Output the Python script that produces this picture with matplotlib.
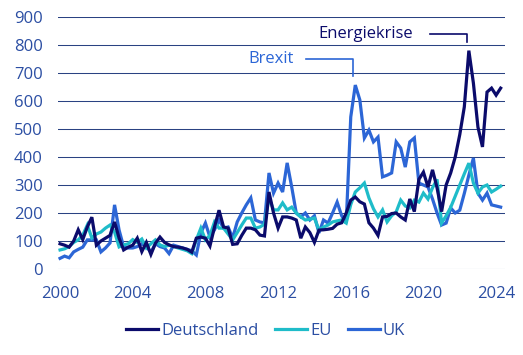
import matplotlib
matplotlib.use("Agg")
import matplotlib.pyplot as plt
import numpy as np

# ---- data (quarterly, 2000Q1 .. 2024Q2) ----
start_year = 2000
deutschland = [
    90, 85, 78, 100,
    140, 105, 150, 185,
    85, 100, 110, 120,
    168, 110, 68, 78,
    85, 110, 62, 95,
    52, 92, 114, 95,
    86, 80, 78, 75,
    70, 60, 110, 114,
    110, 82, 150, 210,
    150, 146, 88, 90,
    120, 146, 146, 140,
    121, 118, 275, 200,
    146, 186, 186, 182,
    175, 110, 150, 130,
    95, 139, 140, 142,
    145, 160, 165, 200,
    246, 257, 240, 232,
    165, 146, 120, 186,
    188, 198, 200, 186,
    175, 250, 205, 320,
    346, 293, 354, 290,
    205, 300, 343, 400,
    480, 579, 780, 664,
    507, 436, 632, 646,
    621, 646,
]
eu = [
    68, 72, 80, 95,
    104, 121, 157, 111,
    125, 132, 146, 157,
    132, 79, 86, 90,
    105, 95, 107, 75,
    90, 104, 86, 80,
    85, 80, 75, 70,
    65, 55, 104, 146,
    104, 120, 168, 146,
    146, 125, 104, 130,
    157, 182, 182, 146,
    150, 160, 254, 211,
    211, 236, 211, 221,
    200, 186, 175, 178,
    182, 139, 150, 157,
    168, 172, 175, 164,
    230, 275, 290, 307,
    254, 215, 186, 211,
    168, 190, 204, 246,
    225, 218, 246, 239,
    271, 250, 290, 320,
    164, 190, 220, 260,
    300, 340, 378, 307,
    271, 293, 300, 275,
    285, 296,
]
uk = [
    38, 46, 40, 61,
    70, 78, 104, 104,
    104, 61, 75, 93,
    229, 139, 79, 75,
    75, 80, 90, 80,
    60, 90, 80, 75,
    55, 85, 80, 75,
    70, 65, 50, 129,
    164, 114, 140, 175,
    146, 150, 111, 168,
    200, 229, 254, 175,
    168, 165, 343, 271,
    307, 275, 379, 293,
    200, 186, 200, 175,
    190, 129, 175, 164,
    200, 239, 190, 164,
    543, 657, 604, 468,
    496, 454, 471, 329,
    335, 343, 454, 432,
    364, 454, 468, 307,
    300, 293, 250, 200,
    157, 164, 218, 200,
    210, 270, 335, 396,
    271, 246, 271, 229,
    225, 221,
]
series_names = ["Deutschland", "EU", "UK"]
x_ticks = [2000, 2004, 2008, 2012, 2016, 2020, 2024]
y_ticks = [0, 100, 200, 300, 400, 500, 600, 700, 800, 900]
annotations = [("Energiekrise", 2022.4, 780), ("Brexit", 2016.1, 657)]

years = start_year + np.arange(len(deutschland)) * 0.25

plt.rcParams['font.family'] = ['Open Sans', 'DejaVu Sans']

C_DE = "#0b0b6b"
C_EU = "#1fbcc9"
C_UK = "#2c66d6"
C_TXT = "#2b4ea3"
C_GRID = "#2a4282"

fig = plt.figure(figsize=(5.23, 3.55), dpi=100)
ax = fig.add_axes([0.111, 0.2423, 0.8546, 0.7097])

lw = 2.3
ax.plot(years, uk, color=C_UK, lw=lw, label=series_names[2], zorder=3, solid_joinstyle='miter')
ax.plot(years, eu, color=C_EU, lw=lw, label=series_names[1], zorder=4, solid_joinstyle='miter')
ax.plot(years, deutschland, color=C_DE, lw=lw, label=series_names[0], zorder=5, solid_joinstyle='miter')

ax.set_xlim(1999.89, 2024.49)
ax.set_ylim(0, 900)
ax.set_xticks(x_ticks)
ax.set_yticks(y_ticks)
ax.grid(axis='y', color=C_GRID, lw=0.75, zorder=1)
ax.set_axisbelow(True)
for s in ax.spines.values():
    s.set_visible(False)
ax.tick_params(length=0, labelsize=12, labelcolor=C_TXT)
ax.tick_params(axis='y', pad=11)
ax.tick_params(axis='x', pad=12)

# Energiekrise annotation
name, ex, ey = annotations[0]
ax.plot([2020.36, ex, ex], [839, 839, 811], color=C_DE, lw=1.2, zorder=6)
ax.text(2019.43, 839, name, color=C_DE, fontsize=12, ha='right', va='center')

# Brexit annotation
name, bx, by = annotations[1]
ax.plot([2013.55, bx, bx], [750, 750, 689], color=C_UK, lw=1.2, zorder=6)
ax.text(2012.88, 750, name, color=C_UK, fontsize=12, ha='right', va='center')

h, l = ax.get_legend_handles_labels()
order = [2, 1, 0]
leg = fig.legend([h[i] for i in order], [l[i] for i in order], loc='center',
                 bbox_to_anchor=(0.508, 0.068), ncol=3, frameon=False,
                 fontsize=12, handlelength=1.9, handletextpad=0.2, columnspacing=1.0)
for t in leg.get_texts():
    t.set_color(C_TXT)

fig.savefig("out.png", dpi=100)
